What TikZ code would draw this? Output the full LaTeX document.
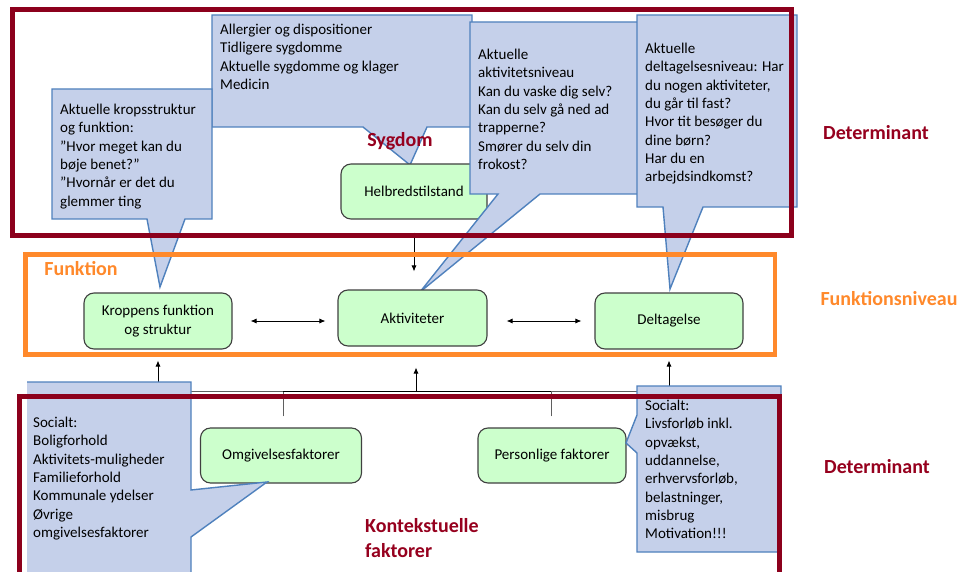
\documentclass[tikz,border=0pt]{standalone}
\usepackage{fontspec}
\setmainfont{Carlito}
\usetikzlibrary{arrows.meta,calc}

\definecolor{framered}{RGB}{140,0,28}
\definecolor{labelred}{RGB}{150,0,30}
\definecolor{frameorange}{RGB}{255,137,43}
\definecolor{callfill}{RGB}{197,208,234}
\definecolor{callline}{RGB}{79,129,189}
\definecolor{boxfill}{RGB}{204,255,204}
\definecolor{boxline}{RGB}{64,64,64}
\definecolor{busgray}{RGB}{95,95,95}

\newcommand{\bodyfont}{\fontsize{15bp}{18.3bp}\selectfont}
\newcommand{\headfont}{\fontsize{20bp}{25bp}\selectfont\bfseries}

\begin{document}
\begin{tikzpicture}[x=1bp,y=-1bp,
  box/.style={draw=boxline, fill=boxfill, rounded corners=10bp, line width=1.1bp,
    align=center, font=\bodyfont, inner sep=2bp},
  callout/.style={fill=callfill, draw=callline, line width=1.4bp, line join=miter},
  calltext/.style={anchor=north west, inner sep=0pt, align=left, font=\bodyfont},
  link/.style={line width=0.8bp},
  tip/.style={-{Latex[length=6bp,width=5bp]}},
  twotip/.style={{Latex[length=6bp,width=5bp]}-{Latex[length=6bp,width=5bp]}},
  head/.style={font=\headfont, inner sep=0pt}
]
\clip (0,0) rectangle (961,572);
\fill[white] (0,0) rectangle (961,572);

% --- upper speech bubbles ---
\filldraw[callout] (212,15) -- (472,15) -- (472,127) -- (427,127) -- (410,165)
  -- (363,127) -- (212,127) -- cycle;
\node[calltext] (tAllergi) at (220,24) {Allergier og dispositioner\\Tidligere sygdomme\\Aktuelle sygdomme og klager\\Medicin};

\node[box, minimum width=146bp, minimum height=55bp] (helb) at (414,191.5) {Helbredstilstand};

\filldraw[callout] (470,22) -- (645,22) -- (645,194) -- (540,194) -- (420,292)
  -- (498,194) -- (470,194) -- cycle;
\node[calltext] (tAkt) at (478,49) {Aktuelle\\aktivitetsniveau\\Kan du vaske dig selv?\\Kan du selv gå ned ad\\trapperne?\\Smører du selv din\\frokost?};

\filldraw[callout] (637,15) -- (797,15) -- (797,207) -- (703,207) -- (670,289)
  -- (663,207) -- (637,207) -- cycle;
\node[calltext] (tDelt) at (645,43) {Aktuelle\\deltagelsesniveau: Har\\du nogen aktiviteter,\\du går til fast?\\Hvor tit besøger du\\dine børn?\\Har du en\\arbejdsindkomst?};

\filldraw[callout] (52,89) -- (212,89) -- (212,219) -- (185,219) -- (160,287)
  -- (147,219) -- (52,219) -- cycle;
\node[calltext] (tKrop) at (60,104) {Aktuelle kropsstruktur\\og funktion:\\”Hvor meget kan du\\bøje benet?”\\”Hvornår er det du\\glemmer ting};

% --- function level ---
\node[box, minimum width=148bp, minimum height=56bp] (krop) at (158,321) {Kroppens funktion\\og struktur};
\node[box, minimum width=149bp, minimum height=56bp] (akt) at (412.5,318) {Aktiviteter};
\node[box, minimum width=148bp, minimum height=56bp] (delt) at (669,321) {Deltagelse};

\draw[link, tip, shorten <=13bp, shorten >=18bp] (helb.south) -- (helb.south |- akt.north);
\draw[link, twotip, shorten <=18bp, shorten >=12bp] (krop.east) -- (krop.east -| akt.west);
\draw[link, twotip, shorten <=19bp, shorten >=13bp] (delt.west -| akt.east) -- (delt.west);

% --- contextual factors ---
\node[box, minimum width=161bp, minimum height=55bp] (omg) at (281,455.5) {Omgivelsesfaktorer};
\node[box, minimum width=148bp, minimum height=55bp] (pers) at (552,455.5) {Personlige faktorer};

\coordinate (bus) at (416,391);
\draw[link, busgray] ([xshift=2bp,yshift=11bp]omg.north) |- (bus -| krop.south);
\draw[link, busgray] ([xshift=-1bp,yshift=11bp]pers.north) |- (bus -| delt.south);
\draw[link, tip, shorten >=11bp] (bus -| krop.south) -- (krop.south);
\draw[link, tip, shorten >=11bp] (bus -| delt.south) -- (delt.south);
\draw[link] ([xshift=2bp]omg.north |- bus) -- ([xshift=-1bp]pers.north |- bus);
\draw[link, tip, shorten >=21bp] (bus) -- (bus |- akt.south);

% --- lower speech bubbles ---
\fill[callfill] (27,382) -- (191,382) -- (191,490) -- (267,482) -- (191,537)
  -- (191,590) -- (27,590) -- cycle;
\draw[callout, fill=none] (27,382) -- (191,382) -- (191,490) -- (267,482) -- (191,537) -- (191,590);
\node[calltext] (tOmg) at (33,417) {Socialt:\\Boligforhold\\Aktivitets-muligheder\\Familieforhold\\Kommunale ydelser\\Øvrige\\omgivelsesfaktorer};

\filldraw[callout] (637,386) -- (781,386) -- (781,552) -- (637,552) -- (637,453)
  -- (626,443) -- (637,415) -- cycle;
\node[calltext] (tPers) at (645,400) {Socialt:\\Livsforløb inkl.\\opvækst,\\uddannelse,\\erhvervsforløb,\\belastninger,\\misbrug\\Motivation!!!};

% --- frames ---
\draw[framered, line width=5bp] (12.5,10) rectangle (791.5,235.5);
\draw[frameorange, line width=4.5bp] (25.5,254.5) rectangle (775,354.5);
\draw[framered, line width=5bp] (19.5,396.5) rectangle (779.5,600);

% --- headings ---
\node[head, text=labelred] (sygdom) at (400,141) {Sygdom};
\node[head, text=frameorange] (funktion) at (81,269) {Funktion};
\node[head, text=labelred] (det1) at (876,133) {Determinant};
\node[head, text=frameorange] (fniv) at (889,299) {Funktionsniveau};
\node[head, text=labelred] (det2) at (877,467) {Determinant};
\node[head, text=labelred, anchor=north west, align=left] (kontekst) at (365,518) {Kontekstuelle\\faktorer};
\end{tikzpicture}
\end{document}
